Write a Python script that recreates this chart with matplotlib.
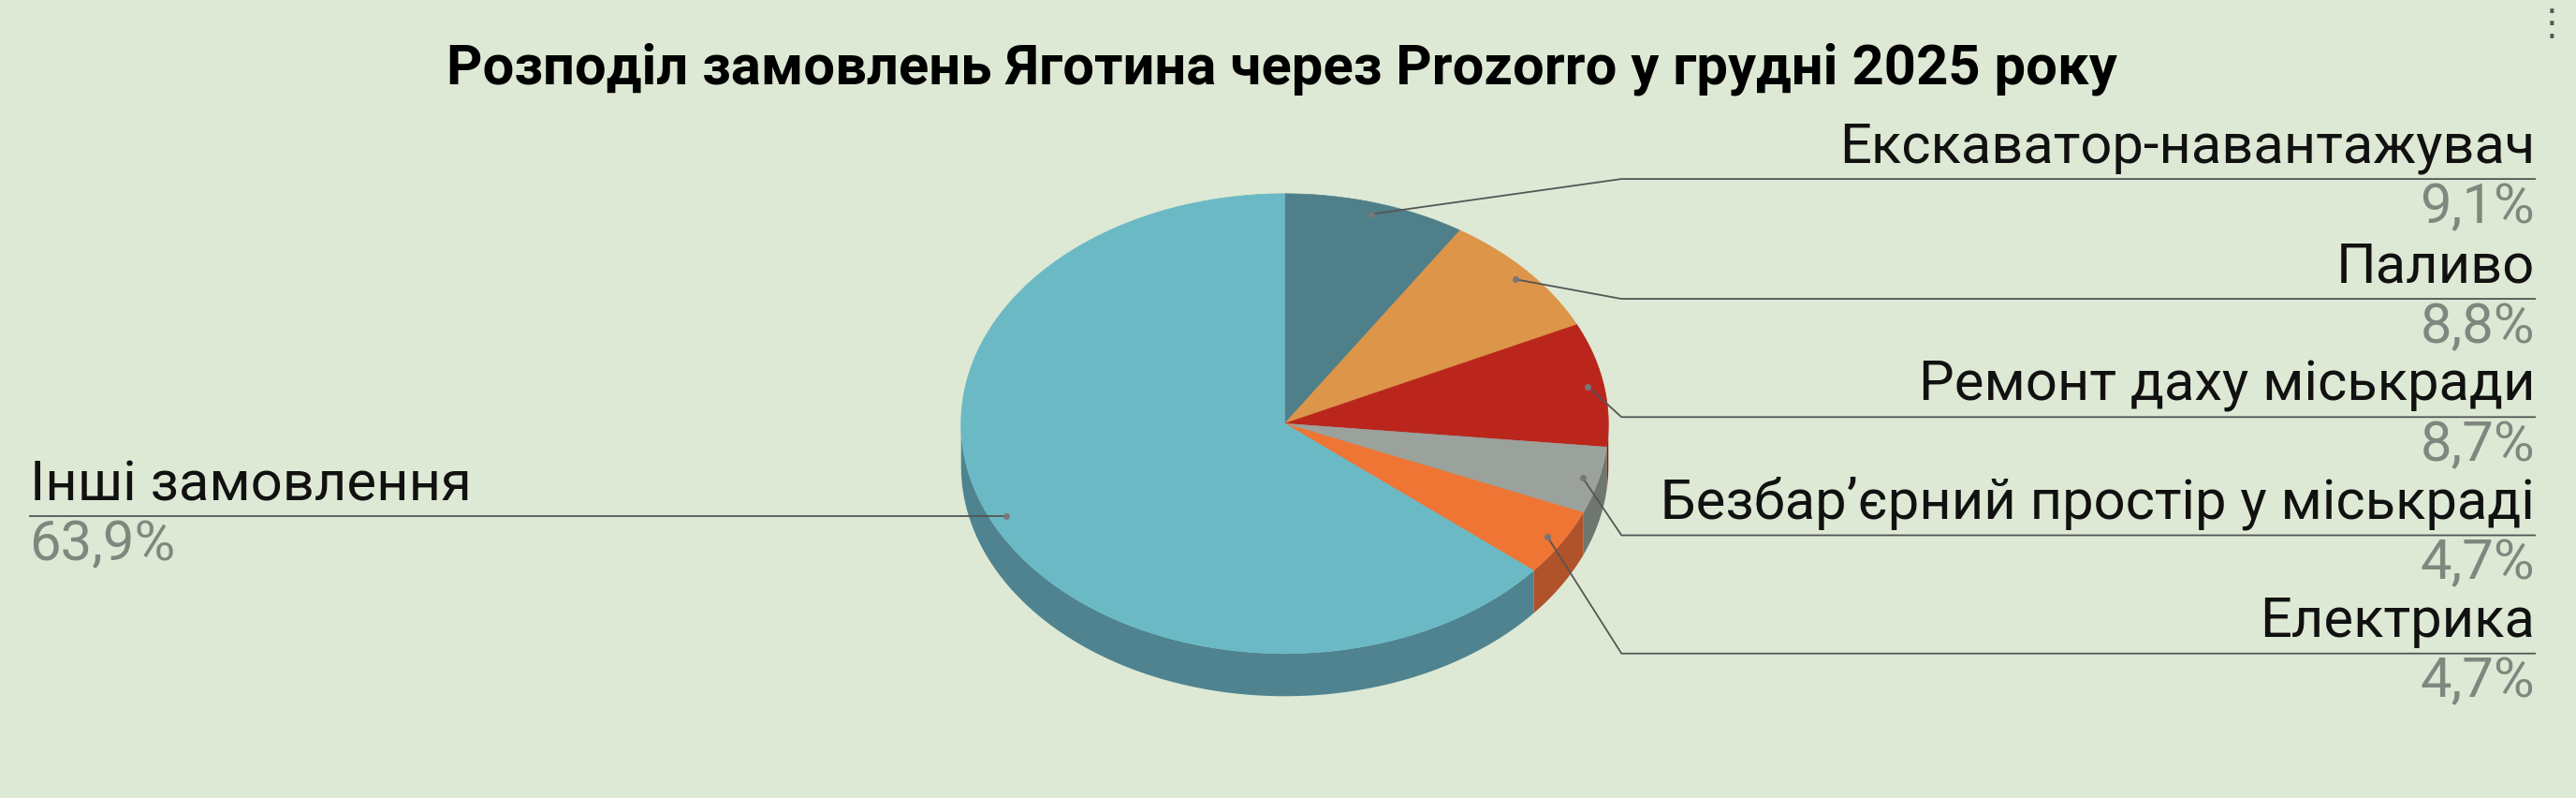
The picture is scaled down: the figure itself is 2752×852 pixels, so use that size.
import numpy as np
import matplotlib.pyplot as plt
from matplotlib.patches import Polygon

labels = ["Екскаватор-навантажувач", "Паливо", "Ремонт даху міськради",
          "Безбар\u2019єрний простір у міськраді", "Електрика", "Інші замовлення"]
shares = [9.1, 8.8, 8.7, 4.7, 4.7, 63.9]
pct_text = ["9,1%", "8,8%", "8,7%", "4,7%", "4,7%", "63,9%"]
top_colors = ["#4f7f89", "#dc9549", "#ba261c", "#9ba19b", "#ee7533", "#6bb9c5"]
side_colors = ["#3b6068", "#a86f35", "#8a1c14", "#6f756f", "#b0532a", "#4f838f"]

BG = "#dde9d4"
W, H = 1568, 486
cx, cy, rx, ry, depth = 782, 258, 197, 140, 26

fig = plt.figure(figsize=(27.52, 8.52), dpi=100, facecolor=BG)
ax = fig.add_axes([0, 0, 1, 1])
ax.set_facecolor(BG)
ax.set_xlim(0, W)
ax.set_ylim(H, 0)
ax.axis("off")


def pt(theta, r=1.0, dz=0.0):
    # theta in degrees, clockwise from 12 o'clock
    t = np.radians(theta)
    return cx + r * rx * np.sin(t), cy - r * ry * np.cos(t) + dz


bounds = np.concatenate([[0], np.cumsum(shares)]) / sum(shares) * 360

# side walls (front half: 90..270 degrees)
for i in range(len(shares)):
    a0, a1 = max(bounds[i], 90), min(bounds[i + 1], 270)
    if a1 <= a0:
        continue
    th = np.linspace(a0, a1, 80)
    topx, topy = pt(th)
    botx, boty = pt(th[::-1], dz=depth)
    poly = np.column_stack([np.concatenate([topx, botx]), np.concatenate([topy, boty])])
    ax.add_patch(Polygon(poly, closed=True, fc=side_colors[i], ec="none"))

# top faces
for i in range(len(shares)):
    th = np.linspace(bounds[i], bounds[i + 1], 200)
    x, y = pt(th)
    poly = np.column_stack([np.concatenate([[cx], x]), np.concatenate([[cy], y])])
    ax.add_patch(Polygon(poly, closed=True, fc=top_colors[i], ec=top_colors[i], lw=0.5))

fs = 43
font = "Roboto"
line_c = "#555555"

# right-side labels
row_y = [109, 182, 254, 326, 398]
for i, ly in enumerate(row_y):
    mid = (bounds[i] + bounds[i + 1]) / 2
    px, py = pt(mid, 0.95)
    ax.plot([px, 987, 1543], [py, ly, ly], color=line_c, lw=1.3)
    ax.plot(px, py, "o", color="#777777", ms=4)
    ax.text(1543, ly - 3, labels[i], ha="right", va="bottom", fontsize=fs, family=font, color="#111111")
    ax.text(1543, ly + 1, pct_text[i], ha="right", va="top", fontsize=fs, family=font, color="#7f877f")

# left label
mid = (bounds[5] + bounds[6]) / 2
px, py = pt(mid, 0.95)
ax.plot([18, px], [py, py], color=line_c, lw=1.3)
ax.plot(px, py, "o", color="#777777", ms=4)
ax.text(18, py - 3, labels[5], ha="left", va="bottom", fontsize=fs, family=font, color="#111111")
ax.text(18, py + 1, pct_text[5], ha="left", va="top", fontsize=fs, family=font, color="#7f877f")

ax.text(780, 42, "Розподіл замовлень Яготина через Prozorro у грудні 2025 року",
        ha="center", va="center", fontsize=43, family=font, weight="bold", color="#000000")
ax.text(1553, 15, "\u22ee", ha="center", va="center", fontsize=28, color="#555555")

fig.savefig("out.png", dpi=100, facecolor=BG)
